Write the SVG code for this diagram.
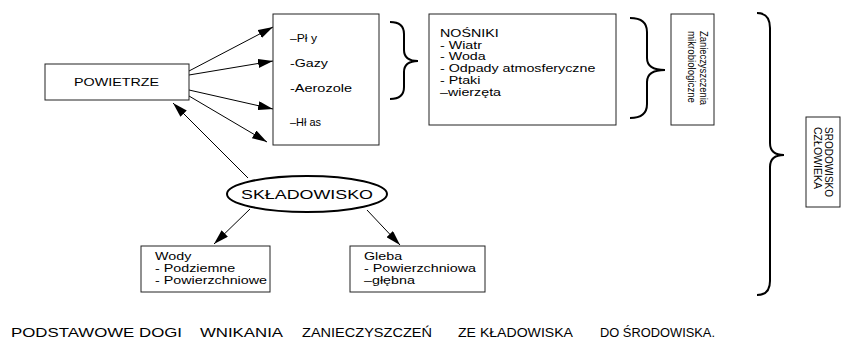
<svg xmlns="http://www.w3.org/2000/svg" width="845" height="342" viewBox="0 0 845 342">
<defs>
<marker id="ah" markerUnits="userSpaceOnUse" markerWidth="15" markerHeight="9" refX="15" refY="4.5" orient="auto">
<path d="M0,0 L15,4.5 L0,9 z" fill="#000"/>
</marker>
<style>
.box{fill:#fff;stroke:#222;stroke-width:1}
.t{font-family:"Liberation Sans",Arial,sans-serif;font-size:11px;fill:#000}
.tn{font-family:"Liberation Sans",Arial,sans-serif;font-size:10.5px;fill:#000}
.tc{font-family:"Liberation Sans",Arial,sans-serif;font-size:12px;fill:#000}
.tr{font-family:"Liberation Sans",Arial,sans-serif;font-size:10.5px;fill:#000}
.brace{fill:none;stroke:#000;stroke-width:2}
.conn{fill:none;stroke:#000;stroke-width:1;marker-end:url(#ah)}
</style>
</defs>
<rect width="845" height="342" fill="#fff"/>

<g id="connectors">
<line class="conn" x1="189" y1="71" x2="273" y2="27"/>
<line class="conn" x1="189" y1="75" x2="273" y2="61"/>
<line class="conn" x1="189" y1="90" x2="273" y2="109"/>
<line class="conn" x1="189" y1="96" x2="267" y2="142"/>
<line class="conn" x1="248" y1="178" x2="173" y2="103"/>
<line class="conn" x1="250" y1="209" x2="214" y2="244"/>
<line class="conn" x1="367" y1="210" x2="400" y2="245"/>
</g>

<g id="powietrze">
<rect class="box" x="45" y="64" width="144" height="36"/>
<text class="t" x="74" y="86" textLength="85" lengthAdjust="spacingAndGlyphs">POWIETRZE</text>
</g>

<g id="zanieczyszczenia-powietrza">
<rect class="box" x="273" y="14" width="106" height="131"/>
<text class="t" x="290" y="42" textLength="27" lengthAdjust="spacingAndGlyphs">–Pł y</text>
<text class="t" x="290" y="67" textLength="38" lengthAdjust="spacingAndGlyphs">-Gazy</text>
<text class="t" x="290" y="92" textLength="62" lengthAdjust="spacingAndGlyphs">-Aerozole</text>
<text class="t" x="290" y="126" textLength="31" lengthAdjust="spacingAndGlyphs">–Hł as</text>
</g>

<g id="brace1">
<path class="brace" d="M390,22 Q404,22 404,34 L404,50 Q404,61 418,61 Q404,61 404,72 L404,87 Q404,99 390,99"/>
</g>

<g id="nosniki">
<rect class="box" x="429" y="14" width="187" height="111"/>
<g transform="translate(440,0) scale(1.36,1)">
<text class="tn" x="0" y="37.5">NOŚNIKI</text>
<text class="tn" x="0" y="49">- Wiatr</text>
<text class="tn" x="0" y="60.5">- Woda</text>
<text class="tn" x="0" y="72.5">- Odpady atmosferyczne</text>
<text class="tn" x="0" y="84">- Ptaki</text>
<text class="tn" x="0" y="96">–wierzęta</text>
</g>
</g>

<g id="brace2">
<path class="brace" d="M630,18 Q647,18 647,32 L647,58 Q647,70 665,70 Q647,70 647,82 L647,104 Q647,118 630,118"/>
</g>

<g id="mikrobiologiczne">
<rect class="box" x="671" y="14" width="43" height="111"/>
<text class="tr" transform="translate(700,31) rotate(90)" textLength="74" lengthAdjust="spacingAndGlyphs">Zanieczyszczenia</text>
<text class="tr" transform="translate(688,31) rotate(90)" textLength="72" lengthAdjust="spacingAndGlyphs">mikrobiologiczne</text>
</g>

<g id="brace3">
<path class="brace" d="M757,13 Q770,13 770,28 L770,143 Q770,155 784,155 Q770,155 770,167 L770,281 Q770,295 757,295"/>
</g>

<g id="srodowisko">
<rect class="box" x="806" y="117" width="34" height="90"/>
<text class="tr" transform="translate(825,127) rotate(90)" textLength="70" lengthAdjust="spacingAndGlyphs">SRODOWISKO</text>
<text class="tr" transform="translate(814,127) rotate(90)" textLength="62" lengthAdjust="spacingAndGlyphs">CZŁOWIEKA</text>
</g>

<g id="skladowisko">
<ellipse cx="307" cy="194" rx="80" ry="18" fill="#fff" stroke="#000" stroke-width="2"/>
<text class="tc" x="241" y="199" textLength="132" lengthAdjust="spacingAndGlyphs">SKŁADOWISKO</text>
</g>

<g id="wody">
<rect class="box" x="141" y="246" width="129" height="46"/>
<g transform="translate(155,0) scale(1.3,1)">
<text class="t" x="0" y="260">Wody</text>
<text class="t" x="0" y="272">- Podziemne</text>
<text class="t" x="0" y="284">- Powierzchniowe</text>
</g>
</g>

<g id="gleba">
<rect class="box" x="350" y="246" width="135" height="46"/>
<g transform="translate(364,0) scale(1.3,1)">
<text class="t" x="0" y="260">Gleba</text>
<text class="t" x="0" y="272">- Powierzchniowa</text>
<text class="t" x="0" y="284">–głębna</text>
</g>
</g>

<g id="caption">
<text class="tc" x="11" y="337" textLength="171" lengthAdjust="spacingAndGlyphs">PODSTAWOWE DOGI</text>
<text class="tc" x="200" y="337" textLength="83" lengthAdjust="spacingAndGlyphs">WNIKANIA</text>
<text class="tc" x="302" y="337" textLength="130" lengthAdjust="spacingAndGlyphs">ZANIECZYSZCZEŃ</text>
<text class="tc" x="458" y="337" textLength="115" lengthAdjust="spacingAndGlyphs">ZE KŁADOWISKA</text>
<text class="tc" x="600" y="337" textLength="115" lengthAdjust="spacingAndGlyphs">DO ŚRODOWISKA.</text>
</g>
</svg>
